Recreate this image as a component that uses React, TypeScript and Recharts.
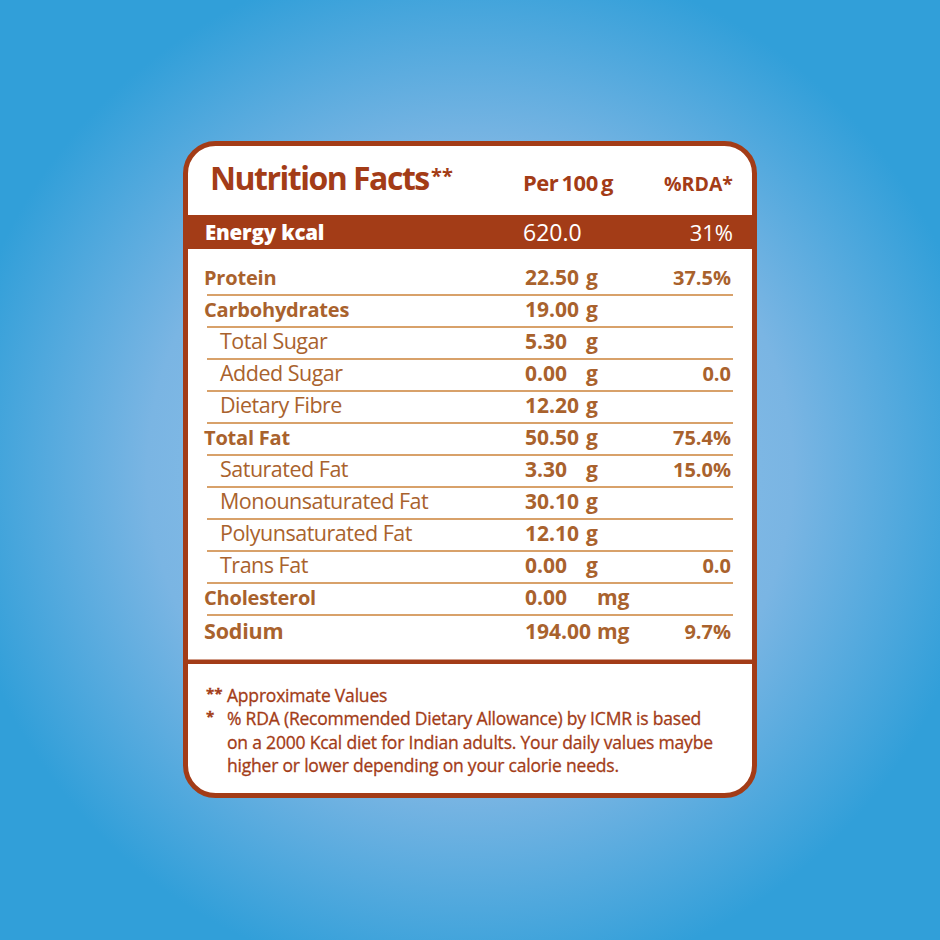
import { Bar, ComposedChart, XAxis, YAxis } from 'recharts'

const nutrients = ['Protein', 'Carbohydrates', 'Total Sugar', 'Added Sugar', 'Dietary Fibre', 'Total Fat', 'Saturated Fat', 'Monounsaturated Fat', 'Polyunsaturated Fat', 'Trans Fat', 'Cholesterol', 'Sodium']
const amounts = [22.5, 19, 5.3, 0, 12.2, 50.5, 3.3, 30.1, 12.1, 0, 0, 194]
const units = ['g', 'g', 'g', 'g', 'g', 'g', 'g', 'g', 'g', 'g', 'mg', 'mg']
const rda = ['37.5%', '', '', '0.0', '', '75.4%', '15.0%', '', '', '0.0', '', '9.7%']
const subRows = ['Total Sugar', 'Added Sugar', 'Dietary Fibre', 'Saturated Fat', 'Monounsaturated Fat', 'Polyunsaturated Fat', 'Trans Fat']
const footnotes = ['% RDA (Recommended Dietary Allowance) by ICMR is based', 'on a 2000 Kcal diet for Indian adults. Your daily values maybe', 'higher or lower depending on your calorie needs.']

const data = nutrients.map((name, i) => ({ name, amount: amounts[i], unit: units[i], rda: rda[i] }))

const FONT = '"Open Sans", sans-serif'
const RED = '#a33c17'
const BROWN = '#a9622d'
const LINE = '#cb8238'
const LAST = nutrients.length - 1

function RowLabel({ y, payload, index }: any) {
  const sub = subRows.includes(payload.value)
  const shift = index === LAST ? 2 : 0
  const size = sub ? 21.5 : index === LAST ? 21.5 : 20
  return (
    <g fontFamily={FONT}>
      <text x={sub ? 220 : 204} y={y + shift} dy={6.5} fill={BROWN} fontSize={size} fontWeight={sub ? 400 : 700} letterSpacing={sub ? -0.5 : -0.2}>
        {payload.value}
      </text>
      {index < LAST && <line x1={207} x2={733} y1={y + 17} y2={y + 17} stroke={LINE} strokeWidth={1.3} />}
    </g>
  )
}

function AmountCell({ x, y, height, payload, index }: any) {
  const cy = y + height / 2 + (index === LAST ? 2 : 0) + 6.5
  return (
    <g fontFamily={FONT} fontSize={21} fontWeight={700} fill={BROWN}>
      <text x={x + 320} y={cy}>{payload.amount.toFixed(2)}</text>
      <text x={x + (payload.unit === 'mg' ? 392 : 381)} y={cy} fontSize={21}>{payload.unit}</text>
      {payload.rda && <text x={x + 526} y={cy} fontSize={20} textAnchor="end">{payload.rda}</text>}
    </g>
  )
}

export default function App() {
  return (
    <div style={{ position: 'absolute', left: 0, top: 0, width: 940, height: 940 }}>
      <ComposedChart
        width={940}
        height={940}
        layout="vertical"
        data={data}
        barCategoryGap={0}
        margin={{ top: 262, right: 207, bottom: 294, left: 188 }}
      >
        <defs>
          <radialGradient id="bg" cx="50%" cy="50%" r="55.3%">
            <stop offset="0%" stopColor="#98c8ec" />
            <stop offset="62%" stopColor="#7ab5e3" />
            <stop offset="100%" stopColor="#319fd9" />
          </radialGradient>
        </defs>
        <rect x={0} y={0} width={940} height={940} fill="url(#bg)" />
        <rect x={185.5} y={143.5} width={569} height={652} rx={30} fill="#ffffff" stroke={RED} strokeWidth={5} />
        <rect x={185} y={215} width={570} height={34} fill={RED} />
        <rect x={185} y={659.5} width={570} height={4.5} fill={RED} />

        <g fontFamily={FONT} fontWeight={700} fill={RED}>
          <text x={210} y={190} fontSize={32} letterSpacing={-1.5}>Nutrition Facts</text>
          <text x={431} y={183} fontSize={20}>**</text>
          <text x={523} y={191} fontSize={22} letterSpacing={-0.5} wordSpacing={-2}>Per 100 g</text>
          <text x={733} y={191} fontSize={19.5} textAnchor="end">%RDA*</text>
        </g>
        <g fontFamily={FONT} fill="#ffffff" fontSize={23}>
          <text x={205} y={240} fontWeight={800} fontSize={20.5} letterSpacing={-0.2}>Energy kcal</text>
          <text x={523} y={241}>620.0</text>
          <text x={733} y={241} fontSize={22} textAnchor="end">31%</text>
        </g>

        <XAxis type="number" domain={[0, 100]} hide />
        <YAxis type="category" dataKey="name" width={17} axisLine={false} tickLine={false} interval={0} tick={RowLabel} />
        <Bar dataKey="amount" isAnimationActive={false} shape={AmountCell} />

        <g fontFamily={FONT} fill={RED} fontSize={17.5} stroke={RED} strokeWidth={0.3}>
          <text x={206} y={699} fontWeight={700} fontSize={15}>**</text>
          <text x={206} y={722} fontWeight={700} fontSize={15}>*</text>
          <text x={227} y={702} letterSpacing={-0.2}>Approximate Values</text>
          {footnotes.map((line, i) => (
            <text key={line} x={227} y={725 + i * 23.6} letterSpacing={-0.2}>{line}</text>
          ))}
        </g>
      </ComposedChart>
    </div>
  )
}
